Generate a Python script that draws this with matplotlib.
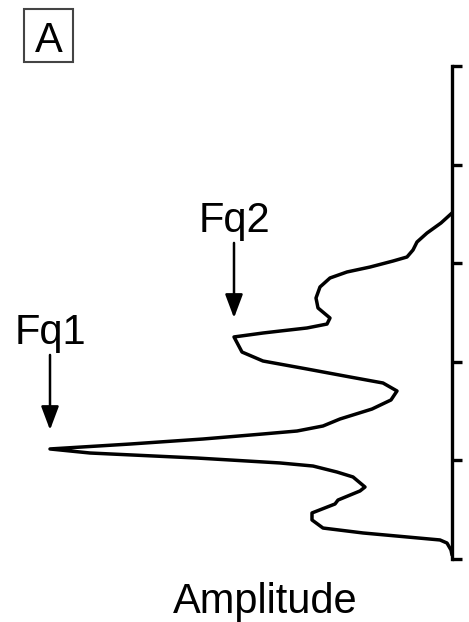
import matplotlib
matplotlib.use("Agg")
import matplotlib.pyplot as plt
from matplotlib.patches import Rectangle
import numpy as np

plt.rcParams['font.family'] = ['Liberation Sans', 'DejaVu Sans']

# amplitude (grows to the left) against position along the vertical axis
position = [1.491, 1.592, 1.694, 1.785, 1.866, 1.937, 1.978, 2.039, 2.089, 2.150,
            2.241, 2.353, 2.454, 2.556, 2.617, 2.657, 2.688, 2.708, 2.748, 2.901,
            2.992, 3.073, 3.154, 3.215, 3.296, 3.387, 3.479, 3.580, 3.651, 3.702,
            3.732, 3.783, 3.834, 3.884, 3.925, 3.976, 4.026, 4.057, 4.118, 4.168,
            4.270, 4.310, 4.402, 4.442, 4.533, 4.604, 4.686, 4.736, 4.807, 4.838,
            4.909, 4.959]
amplitude = [0.00, 0.11, 0.25, 0.35, 0.39, 0.45, 0.59, 0.82, 1.05, 1.22,
             1.32, 1.36, 1.34, 1.22, 1.25, 1.45, 1.72, 1.89, 2.18, 2.10,
             1.89, 1.45, 1.02, 0.69, 0.55, 0.61, 0.80, 1.12, 1.29, 1.55,
             1.89, 2.49, 3.22, 4.02, 3.62, 2.55, 1.72, 1.39, 1.15, 0.99,
             0.87, 0.92, 1.14, 1.17, 1.40, 1.40, 1.29, 0.89, 0.12, 0.05,
             0.01, 0.00]
y_ticks = [0, 1, 2, 3, 4, 5]
peak_labels = ["Fq2", "Fq1"]
peak_index = [18, 33]

W, H = 469, 622
fig = plt.figure(figsize=(W / 100, H / 100), dpi=100)
ax = fig.add_axes([23 / W, 1 - 559 / H, (452 - 23) / W, (559 - 66) / H])

ax.plot(amplitude, position, color='black', lw=2.5,
        solid_joinstyle='round', solid_capstyle='round')
ax.set_xlim(4.29, 0)
ax.set_ylim(5, 0)

for side in ['left', 'top', 'bottom']:
    ax.spines[side].set_visible(False)
ax.spines['right'].set_linewidth(2.4)
ax.yaxis.tick_right()
ax.set_yticks(y_ticks)
ax.set_yticklabels([])
ax.set_xticks([])
ax.tick_params(axis='y', direction='out', length=7, width=2.4)

for lab, i in zip(peak_labels, peak_index):
    pk = (amplitude[i], position[i])
    ax.annotate('', xy=pk, xytext=(0, 67.7), textcoords='offset points',
                arrowprops=dict(arrowstyle='-|>,head_length=0.4,head_width=0.15',
                                mutation_scale=36, color='black', lw=1.8,
                                shrinkA=0, shrinkB=13.7))
    ax.annotate(lab, xy=pk, xytext=(0, 75.6), textcoords='offset points',
                ha='center', va='baseline', fontsize=30)

fig.text(265 / W, 1 - 613 / H, "Amplitude", ha='center', va='baseline', fontsize=30)

# panel letter in a box
fig.patches.append(Rectangle((24 / W, 1 - 62 / H), 49 / W, 53 / H,
                             transform=fig.transFigure, fill=False,
                             edgecolor='#444444', lw=1.5))
fig.text(49 / W, 1 - 52 / H, "A", ha='center', va='baseline', fontsize=30)

fig.savefig("out.png", dpi=100)
